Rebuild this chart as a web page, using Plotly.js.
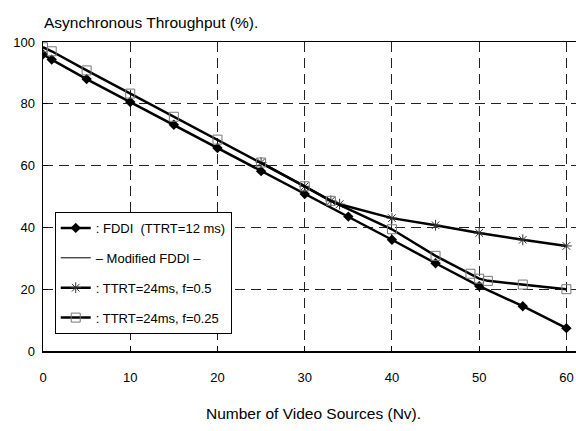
<!DOCTYPE html>
<html><head><meta charset="utf-8">
<script src="https://cdn.plot.ly/plotly-3.0.1.min.js"></script>
<style>body{margin:0;background:#fff}#c{width:576px;height:431px}</style>
</head><body><div id="c"></div>
<script>
const fddiX = [0,1,5,10,15,20,25,30,35,40,45,50,55,60];
const fddiY = [96,94.3,88,80.6,73.2,65.7,58.2,50.8,43.5,36,28.4,21,14.5,7.4];
const sqX = [0,1,5,10,15,20,25,30,33,40,45,49,50,51,55,60];
const sqY = [98.3,97,90.8,83.3,75.8,68.4,61,53.3,48.6,39.4,30.8,25,23.4,22.7,21.5,20];
const starX = [25,30,33,34,40,45,50,55,60];
const starY = [61,53.3,48.6,47.5,43,40.7,38.2,36,34];
const xTicks = [0,10,20,30,40,50,60];
const yTicks = [0,20,40,60,80,100];

const FONT = '"Liberation Sans",Arial,Helvetica,sans-serif';

const traces = [
  {x: fddiX, y: fddiY, mode: 'lines+markers', name: ': FDDI  (TTRT=12 ms)',
   line: {color: '#000', width: 2.5}, marker: {symbol: 'diamond', size: 8, color: '#000'}, legendgroup: 'a'},
  {x: [null], y: [null], mode: 'lines', name: '– Modified FDDI –',
   line: {color: '#000', width: 1}, legendgroup: 'b'},
  {x: starX, y: starY, mode: 'lines+markers', name: ': TTRT=24ms, f=0.5',
   line: {color: '#000', width: 2.5}, marker: {symbol: 'asterisk-open', size: 9, color: '#333', line: {width: 1, color: '#333'}}, legendgroup: 'c'},
  {x: sqX, y: sqY, mode: 'lines+markers', name: ': TTRT=24ms, f=0.25',
   line: {color: '#000', width: 2.5}, marker: {symbol: 'square-open', size: 9, color: '#777', line: {width: 1, color: '#777'}}, legendgroup: 'd'}
];

const layout = {
  width: 576, height: 431,
  margin: {l: 43, r: 0, t: 42, b: 80},
  paper_bgcolor: '#fff', plot_bgcolor: '#fff',
  font: {family: FONT, size: 13, color: '#000'},
  showlegend: true,
  legend: {x: 0.022, y: 0.45, xanchor: 'left', yanchor: 'top', bordercolor: '#000', borderwidth: 1,
           bgcolor: '#fff', font: {family: FONT, size: 13}, tracegroupgap: 10, traceorder: 'grouped'},
  title: {text: 'Asynchronous Throughput (%).', x: 44/576, xanchor: 'left', y: 1 - 23/431, yanchor: 'middle',
          font: {family: FONT, size: 15.5}},
  annotations: [{text: 'Number of Video Sources (Nv).', xref: 'paper', yref: 'paper', x: (313-43)/533, y: (351-413)/309,
                 xanchor: 'center', yanchor: 'middle', showarrow: false, font: {family: FONT, size: 15.5}}],
  xaxis: {range: [0, 61.1], tickvals: xTicks, ticktext: xTicks.map(String), showgrid: true,
          gridcolor: '#222', griddash: '10px,6px', gridwidth: 1, showline: true, mirror: true, linecolor: '#000', linewidth: 1.5,
          zeroline: false, ticks: 'inside', ticklen: 5, tickcolor: '#000', tickfont: {family: FONT, size: 13}, ticklabelstandoff: 14},
  yaxis: {range: [0, 100], tickvals: yTicks, ticktext: yTicks.map(String), showgrid: true,
          gridcolor: '#222', griddash: '10px,6px', gridwidth: 1, showline: true, linecolor: '#000', linewidth: 1.5,
          zeroline: false, ticks: 'inside', ticklen: 5, tickcolor: '#000', tickfont: {family: FONT, size: 13}, ticklabelstandoff: 4}
};

Plotly.newPlot('c', traces, layout, {displayModeBar: false, staticPlot: true});
</script></body></html>
